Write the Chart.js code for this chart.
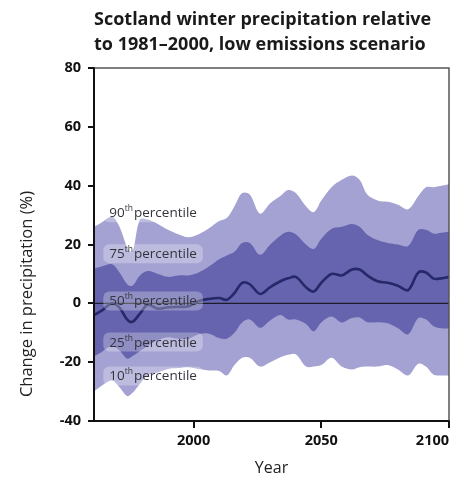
<!DOCTYPE html>
<html>
<head>
<meta charset="utf-8">
<script src="https://cdn.jsdelivr.net/npm/chart.js@4.4.0/dist/chart.umd.min.js"></script>
<style>
  html, body { margin: 0; padding: 0; background: #fff; }
  #wrap { width: 463px; height: 484px; }
</style>
</head>
<body>
<div id="wrap"><canvas id="chart" width="463" height="484"></canvas></div>
<script>
// Winter precipitation change (%) relative to 1981–2000, low emissions scenario
const years = [1961, 1964, 1968, 1971, 1974, 1976, 1979, 1982, 1986, 1990, 1994, 1998,
  2002, 2006, 2010, 2013, 2016, 2019, 2022, 2026, 2030, 2034, 2037, 2040, 2044, 2047,
  2050, 2054, 2058, 2062, 2065, 2068, 2072, 2076, 2080, 2084, 2088, 2091, 2094, 2097, 2100];

const p90 = [26, 27.5, 29.4, 26, 19, 17.5, 28.5, 28.5, 27, 25, 23.5, 22.5,
  23.5, 25.5, 28, 29, 33, 37.5, 37, 30.5, 34, 36.5, 38.5, 37.5, 33, 31,
  35, 39.5, 42, 43.5, 42, 37, 35, 34.5, 33.5, 32, 36.5, 39.5, 39.5, 40, 40.5];

const p75 = [11.8, 12.5, 13.3, 10.5, 6.5, 6, 9.5, 11, 10, 9, 9.5, 9.5,
  10.5, 12.5, 15, 16.3, 17.5, 20.5, 20.5, 16.5, 20, 23, 24.3, 23.5, 20, 18.5,
  22, 25.3, 26, 27, 26, 23.3, 21.5, 20.5, 20, 19.5, 25, 25, 23.7, 24, 24.3];

const p50 = [-4, -2.5, 0, -1.5, -5.5, -6.3, -3.5, -0.5, -1.8, -1.3, -1.2, -1,
  0.8, 1.5, 1.8, 1.2, 3.5, 7, 6.5, 3.2, 5.5, 7.5, 8.5, 9, 5.5, 4,
  7, 10, 9.5, 11.5, 11.5, 9.5, 7.5, 7, 6, 4.5, 10.5, 10.5, 8.4, 8.5, 9];

const p25 = [-18, -16.5, -14.5, -16, -18.8, -18, -16.2, -14.5, -12.5, -11.5, -12, -12,
  -10.5, -10.3, -11.8, -12, -10, -6.5, -5.5, -8.3, -5.8, -4, -5.5, -5.5, -7, -9.5,
  -6.5, -4.5, -6.5, -5, -4.8, -6.4, -6.4, -6.8, -8.5, -10.5, -5, -5.5, -7.8, -8.5, -8.6];

const p10 = [-30, -28, -26.2, -28.5, -31.5, -30.5, -27.3, -24.5, -23.5, -22.3, -22, -21.7,
  -22.3, -22.8, -23, -24.5, -21, -18.5, -18.5, -21.5, -20, -18.3, -17.5, -17.3, -21.5, -21.5,
  -21, -18.5, -21.5, -22.5, -21.7, -21.5, -21.5, -21, -22.5, -24.5, -20.5, -21.5, -24.3, -24.5, -24.5];

const xTicks = [2000, 2050, 2100];
const yRange = [-40, 80];
const yStep = 20;

// band labels: rank and the level (in %) they sit at
const labelRanks = ['90', '75', '50', '25', '10'];
const labelLevels = [31, 17, 1, -13, -24.5];
const labelYear = 1967;

const LIGHT = '#a4a2d2';
const DARK = '#6664ae';
const MEDIAN = '#252869';
const FONT = '"Open Sans", "DejaVu Sans", sans-serif';

const pts = arr => years.map((yr, i) => ({ x: yr, y: arr[i] }));

const band = (data, fillTarget, color, order) => ({
  data: pts(data), fill: fillTarget, backgroundColor: color, borderWidth: 0,
  pointRadius: 0, tension: 0.35, order
});

// zero reference line, axis frame and band labels
const overlay = {
  id: 'overlay',
  beforeDatasetDraw(chart, args) {
    if (args.index !== 4) return;
    const { ctx, chartArea: a, scales: { y } } = chart;
    const y0 = y.getPixelForValue(0);
    ctx.save();
    ctx.strokeStyle = '#1c1c2a';
    ctx.lineWidth = 1.3;
    ctx.beginPath();
    ctx.moveTo(a.left, y0);
    ctx.lineTo(a.right, y0);
    ctx.stroke();
    ctx.restore();
  },
  afterDatasetsDraw(chart) {
    const { ctx, chartArea: a, scales: { x, y } } = chart;
    ctx.save();
    // band labels with soft backdrops
    const x0 = x.getPixelForValue(labelYear);
    const big = '13.5px ' + FONT, small = '8.5px ' + FONT;
    labelRanks.forEach((r, i) => {
      const cy = y.getPixelForValue(labelLevels[i]);
      ctx.font = big;
      const wNum = ctx.measureText(r).width;
      const wWord = ctx.measureText('percentile').width;
      ctx.font = small;
      const wSup = ctx.measureText('th').width;
      const w = wNum + wSup + wWord + 1;
      ctx.fillStyle = 'rgba(255,255,255,0.28)';
      ctx.beginPath();
      ctx.roundRect(x0 - 6, cy - 9, w + 12, 19, 6);
      ctx.fill();
      ctx.fillStyle = '#33333d';
      ctx.textBaseline = 'alphabetic';
      ctx.textAlign = 'left';
      ctx.font = big;
      ctx.fillText(r, x0, cy + 5);
      ctx.font = small;
      ctx.fillText('th', x0 + wNum, cy - 1);
      ctx.font = big;
      ctx.fillText('percentile', x0 + wNum + wSup + 1, cy + 5);
    });
    // frame: light top/right, solid left/bottom
    ctx.strokeStyle = '#555';
    ctx.lineWidth = 1.5;
    ctx.beginPath();
    ctx.moveTo(a.left, a.top);
    ctx.lineTo(a.right, a.top);
    ctx.lineTo(a.right, a.bottom);
    ctx.stroke();
    ctx.strokeStyle = '#111';
    ctx.lineWidth = 2;
    ctx.beginPath();
    ctx.moveTo(a.left, a.top);
    ctx.lineTo(a.left, a.bottom);
    ctx.lineTo(a.right, a.bottom);
    ctx.stroke();
    // vertical axis title
    ctx.translate(27, 294);
    ctx.rotate(-Math.PI / 2);
    ctx.textAlign = 'center';
    ctx.textBaseline = 'middle';
    ctx.fillStyle = '#222';
    ctx.font = '16.5px ' + FONT;
    ctx.fillText('Change in precipitation (%)', 0, 0);
    ctx.restore();
  }
};

new Chart(document.getElementById('chart'), {
  type: 'line',
  data: {
    datasets: [
      band(p90, 1, LIGHT, 5),
      band(p10, false, 'transparent', 4),
      band(p75, 3, DARK, 3),
      band(p25, false, 'transparent', 2),
      {
        data: pts(p50), borderColor: MEDIAN, borderWidth: 2.6, pointRadius: 0,
        tension: 0.35, fill: false, order: 1
      }
    ]
  },
  options: {
    responsive: false,
    devicePixelRatio: 1,
    animation: false,
    layout: { padding: { left: 0, right: 14, top: 0, bottom: 0 } },
    plugins: {
      legend: { display: false },
      tooltip: { enabled: false },
      title: {
        display: true,
        text: ['Scotland winter precipitation relative', 'to 1981\u20132000, low emissions scenario'],
        align: 'start',
        fullSize: false,
        color: '#1a1a1a',
        font: { family: FONT, size: 18, weight: 'bold', lineHeight: 1.39 },
        padding: { top: 7, bottom: 11 }
      }
    },
    scales: {
      x: {
        type: 'linear',
        min: years[0],
        max: years[years.length - 1],
        afterBuildTicks(s) { s.ticks = [years[0], ...xTicks].map(v => ({ value: v })); },
        afterFit(s) { s.height = 63; s.paddingLeft = 0; s.paddingRight = 0; },
        ticks: {
          align: 'inner',
          padding: 4,
          color: '#111',
          font: { family: FONT, size: 14.5, weight: 'bold' },
          callback: v => (xTicks.includes(v) ? String(v) : '')
        },
        grid: {
          drawOnChartArea: false,
          tickLength: 7,
          lineWidth: 2,
          color: c => (c.tick && xTicks.includes(c.tick.value) ? '#111' : 'rgba(0,0,0,0)')
        },
        border: { display: true, color: '#111', width: 2 },
        title: {
          display: true, text: 'Year', color: '#222',
          font: { family: FONT, size: 16 }, padding: { top: 0, bottom: 6 }
        }
      },
      y: {
        min: yRange[0],
        max: yRange[1],
        afterFit(s) { s.width = 94; },
        ticks: {
          stepSize: yStep,
          padding: 7,
          color: '#111',
          font: { family: FONT, size: 14.5, weight: 'bold' }
        },
        grid: { drawOnChartArea: false, tickLength: 6, lineWidth: 2, color: '#111' },
        border: { display: true, color: '#111', width: 2 }
      }
    }
  },
  plugins: [overlay]
});
</script>
</body>
</html>
